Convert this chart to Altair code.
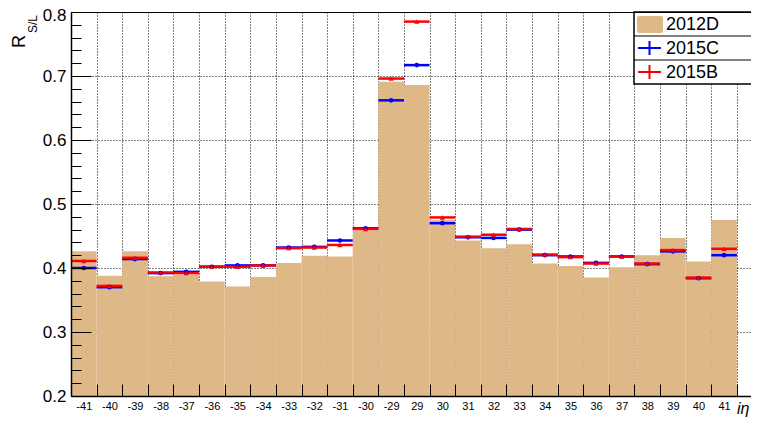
import altair as alt
import pandas as pd

# ---- data ----
categories = ['-41', '-40', '-39', '-38', '-37', '-36', '-35', '-34', '-33', '-32', '-31', '-30', '-29',
              '29', '30', '31', '32', '33', '34', '35', '36', '37', '38', '39', '40', '41']
r_2012D = [0.426, 0.388, 0.426, 0.387, 0.389, 0.379, 0.371, 0.386, 0.408, 0.419, 0.418, 0.459, 0.691,
           0.686, 0.475, 0.443, 0.431, 0.437, 0.407, 0.403, 0.385, 0.401, 0.420, 0.447, 0.410, 0.475]
r_2015C = [0.400, 0.370, 0.414, 0.392, 0.394, 0.402, 0.404, 0.404, 0.432, 0.433, 0.443, 0.462, 0.662,
           0.717, 0.470, 0.448, 0.447, 0.460, 0.420, 0.418, 0.408, 0.418, 0.406, 0.426, 0.384, 0.420]
r_2015B = [0.411, 0.372, 0.416, 0.393, 0.392, 0.402, 0.402, 0.404, 0.431, 0.432, 0.436, 0.461, 0.696,
           0.785, 0.479, 0.449, 0.452, 0.461, 0.421, 0.417, 0.407, 0.418, 0.407, 0.428, 0.385, 0.430]
y_labels = [0.2, 0.3, 0.4, 0.5, 0.6, 0.7, 0.8]
legend_labels = ['2012D', '2015C', '2015B']

n = len(categories)
df = pd.DataFrame({
    'cat': categories,
    'lo': list(range(n)),
    'hi': [i + 1 for i in range(n)],
    'mid': [i + 0.5 for i in range(n)],
    'd12': r_2012D,
    'c15': r_2015C,
    'b15': r_2015B,
})
one = pd.DataFrame({'a': [0]})

FONT = 'Liberation Sans'
TAN = '#DEB887'
W, H = 680, 384

edges = list(range(n + 1))
centers = [i + 0.5 for i in range(n)]
minor_y = [round(0.2 + 0.02 * i, 2) for i in range(31)]

xs = alt.Scale(domain=[0, 26.55], nice=False, zero=False)
ys = alt.Scale(domain=[0.2, 0.8], nice=False, zero=False)

label_arr = '[' + ','.join("'%s'" % c for c in categories) + ']'

ax_grid = alt.Axis(orient='bottom', values=edges, grid=True, gridColor='black', gridDash=[1, 2],
                   gridWidth=1, gridOpacity=1, ticks=False, labels=False, domain=False, title=None, zindex=0)
ax_labels = alt.Axis(orient='bottom', values=centers, grid=False, ticks=False, domain=False,
                     labelExpr=label_arr + '[floor(datum.value)]', labelFont=FONT, labelFontSize=11,
                     labelColor='black', labelPadding=4, labelFlush=False, labelOverlap=False,
                     title=None, zindex=1)
ax_xticks = alt.Axis(orient='top', offset=-H, values=edges, grid=False, ticks=True, tickSize=12,
                     tickColor='black', tickWidth=1, labels=False, domain=True, domainColor='black',
                     domainWidth=1.5, title=None, zindex=1)
ax_top = alt.Axis(orient='top', grid=False, ticks=False, labels=False, domain=True,
                  domainColor='black', domainWidth=1, title=None, zindex=1)

ay_main = alt.Axis(orient='left', values=y_labels, format='.1f', grid=True, gridColor='black',
                   gridDash=[1, 2], gridWidth=1, gridOpacity=1, ticks=False, domain=False,
                   labelFont=FONT, labelFontSize=17, labelColor='black', labelPadding=5,
                   labelOffset={'condition': {'test': 'datum.value > 0.75', 'value': 3}, 'value': 0},
                   labelFlush=False, labelOverlap=False, title=None, zindex=0)
ay_major = alt.Axis(orient='right', offset=-W, values=y_labels, grid=False, ticks=True, tickSize=20,
                    tickColor='black', tickWidth=1, labels=False, domain=True, domainColor='black',
                    domainWidth=1.5, title=None, zindex=1)
ay_minor = alt.Axis(orient='right', offset=-W, values=minor_y, grid=False, ticks=True, tickSize=10,
                    tickColor='black', tickWidth=1, labels=False, domain=False, title=None, zindex=1)

base = alt.Chart(df)

bars = base.mark_rect(color=TAN).encode(
    x=alt.X('lo:Q', scale=xs, axis=ax_grid),
    x2='hi:Q',
    y=alt.Y('d12:Q', scale=ys, axis=ay_main),
    y2=alt.datum(0.2),
)

blue_err = base.mark_rule(color='#0000FF', strokeWidth=2.5).encode(
    x=alt.X('lo:Q', scale=xs, axis=ax_labels),
    x2='hi:Q',
    y=alt.Y('c15:Q', scale=ys, axis=ay_major),
)
red_err = base.mark_rule(color='#FF0000', strokeWidth=2.5).encode(
    x=alt.X('lo:Q', scale=xs, axis=ax_xticks),
    x2='hi:Q',
    y=alt.Y('b15:Q', scale=ys, axis=ay_minor),
)
blue_pts = base.mark_point(shape='circle', filled=True, size=22, color='#0000FF', opacity=1).encode(
    x=alt.X('mid:Q', scale=xs, axis=ax_top),
    y=alt.Y('c15:Q', scale=ys, axis=None),
)
red_pts = base.mark_point(shape='triangle-up', filled=True, size=26, color='#FF0000', opacity=1).encode(
    x=alt.X('mid:Q', scale=xs, axis=None),
    y=alt.Y('b15:Q', scale=ys, axis=None),
)

# ---- legend (drawn) ----
leg = alt.Chart(one)
leg_box = leg.mark_rect(fill='white', stroke='black', strokeWidth=1.5).encode(
    x=alt.value(563), x2=alt.value(720), y=alt.value(0), y2=alt.value(72))
leg_div1 = leg.mark_rule(color='black', strokeWidth=1).encode(
    x=alt.value(563), x2=alt.value(720), y=alt.value(24))
leg_div2 = leg.mark_rule(color='black', strokeWidth=1).encode(
    x=alt.value(563), x2=alt.value(720), y=alt.value(48))
leg_sw = leg.mark_rect(fill=TAN, cornerRadius=2).encode(
    x=alt.value(566), x2=alt.value(592), y=alt.value(4), y2=alt.value(21))
leg_bh = leg.mark_rule(color='#0000FF', strokeWidth=2).encode(
    x=alt.value(567), x2=alt.value(590), y=alt.value(36))
leg_bv = leg.mark_rule(color='#0000FF', strokeWidth=2).encode(
    x=alt.value(578.5), y=alt.value(29), y2=alt.value(43))
leg_rh = leg.mark_rule(color='#FF0000', strokeWidth=2).encode(
    x=alt.value(567), x2=alt.value(590), y=alt.value(60))
leg_rv = leg.mark_rule(color='#FF0000', strokeWidth=2).encode(
    x=alt.value(578.5), y=alt.value(53), y2=alt.value(67))
leg_texts = [
    leg.mark_text(text=legend_labels[i], align='left', baseline='alphabetic', font=FONT,
                  fontSize=18, color='black').encode(x=alt.value(595), y=alt.value(18 + 24 * i))
    for i in range(3)
]

# ---- axis titles ----
ytitle_R = leg.mark_text(text='R', angle=270, align='left', baseline='alphabetic', font=FONT,
                         fontSize=18, color='black').encode(x=alt.value(-46), y=alt.value(36))
ytitle_sub = leg.mark_text(text='S/L', angle=270, align='left', baseline='alphabetic', font=FONT,
                           fontSize=12, color='black').encode(x=alt.value(-34), y=alt.value(21))
xtitle = leg.mark_text(text='iη', align='left', baseline='alphabetic', font=FONT, fontSize=16,
                       fontStyle='italic', color='black').encode(x=alt.value(666), y=alt.value(402))

chart = alt.layer(
    bars, blue_err, red_err, blue_pts, red_pts,
    leg_box, leg_div1, leg_div2, leg_sw, leg_bh, leg_bv, leg_rh, leg_rv, *leg_texts,
    ytitle_R, ytitle_sub, xtitle,
).resolve_axis(x='independent', y='independent').properties(
    width=W, height=H,
    autosize=alt.AutoSizeParams(type='none'),
    padding={'left': 63, 'top': 4, 'right': 0, 'bottom': 22},
    background='white',
).configure_view(stroke=None)

chart.save('out.html', embed_options={'renderer': 'svg', 'actions': False})
